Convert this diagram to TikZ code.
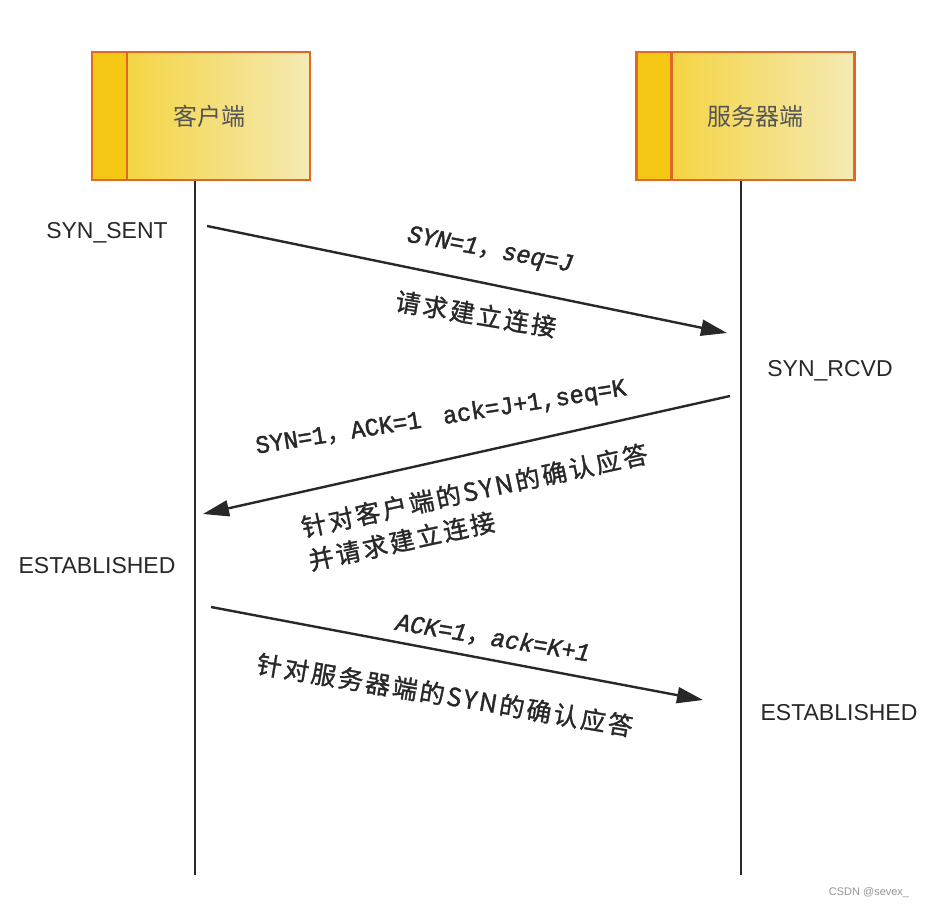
\documentclass[tikz,border=0pt]{standalone}
\usepackage{xcolor}
\usepackage{fontspec}
\setmainfont{Liberation Sans}
\newfontfamily\cjkplain{Noto Sans CJK SC}
\newfontfamily\lblzh[LetterSpace=10,FakeBold=1.2]{Noto Sans CJK SC}
\newfontfamily\lblmono[FakeBold=1.6,FakeStretch=0.95]{Liberation Mono}
\newcommand{\zh}[1]{{\lblzh\fontsize{25}{34}\selectfont #1}}
\usetikzlibrary{arrows.meta}
\definecolor{myorange}{RGB}{224,104,36}
\definecolor{mystrip}{RGB}{244,200,20}
\definecolor{myyellow}{RGB}{245,208,46}
\definecolor{mypale}{RGB}{244,234,180}
\definecolor{mydark}{RGB}{40,40,40}
\definecolor{mygrey}{RGB}{85,85,85}
\definecolor{mymark}{RGB}{150,150,150}
\tikzset{
  hostbox/.style={rectangle, draw=myorange, line width=2.2pt,
    left color=myyellow, right color=mypale,
    minimum width=218pt, minimum height=128pt, inner sep=0pt,
    path picture={
      \fill[mystrip] (path picture bounding box.north west)
        rectangle ([xshift=35pt]path picture bounding box.south west);
      \draw[myorange, line width=2.2pt] ([xshift=35pt]path picture bounding box.north west)
        -- ([xshift=35pt]path picture bounding box.south west);}},
  hosttext/.style={font=\cjkplain\fontsize{24}{28}\selectfont, text=mygrey},
  lifeline/.style={line width=2pt, color=mydark},
  msg/.style={-{Triangle[length=26pt,width=16pt]}, line width=2.4pt, color=mydark},
  state/.style={font=\fontsize{23}{27}\selectfont, text=mydark},
  msglabel/.style={font=\lblmono\fontsize{25}{34}\selectfont, text=mydark,
    align=left, inner sep=0pt}
}
\begin{document}
\begin{tikzpicture}[x=1pt, y=-1pt]
  \fill[white] (0,0) rectangle (928,910);
  \useasboundingbox (0,0) rectangle (928,910);

  % hosts
  \node[hostbox] (client) at (201,116) {};
  \node[hosttext] (clientname) at (209,116) {客户端};
  \node[hostbox] (server) at (745.5,116) {};
  \node[hosttext] (servername) at (755,116) {服务器端};

  \coordinate (clientend) at (195,875);
  \coordinate (serverend) at (741,875);
  \draw[lifeline] (clientend |- client.south) -- (clientend);
  \draw[lifeline] (serverend |- server.south) -- (serverend);

  % states
  \node[state] (synsent) at (107,233) {SYN\_SENT};
  \node[state] (synrcvd) at (830,371) {SYN\_RCVD};
  \node[state] (estclient) at (97,566) {ESTABLISHED};
  \node[state] (estserver) at (839,713) {ESTABLISHED};

  % first handshake
  \coordinate (syna) at (207,226);
  \coordinate (synb) at (727,333);
  \draw[msg] (syna) -- (synb);
  \node[msglabel, rotate=-10.4] (synlabel) at (490,251) {\itshape SYN=1\zh{，}seq=J};
  \node[msglabel, rotate=-9.5] (synnote) at (476,314) {\zh{请求建立连接}};

  % second handshake
  \coordinate (ackb) at (730,396);
  \coordinate (acka) at (203,514);
  \draw[msg] (ackb) -- (acka);
  \node[msglabel, rotate=9] (acklabel) at (441,418) {SYN=1\zh{，}ACK=1\hspace{22pt}ack=J+1,seq=K};
  \node[msglabel, rotate=12.2] (acknote) at (478,507)
    {\zh{针对客户端的SYN的确认应答}\\\zh{并请求建立连接}};

  % third handshake
  \coordinate (esta) at (211,607);
  \coordinate (estb) at (703,700);
  \draw[msg] (esta) -- (estb);
  \node[msglabel, rotate=-9.3] (estlabel) at (493,638) {\itshape ACK=1\zh{，}ack=K+1};
  \node[msglabel, rotate=-9.6] (estnote) at (445,695) {\zh{针对服务器端的SYN的确认应答}};

  \node[font=\fontsize{11}{13}\selectfont, text=mymark] (mark) at (869,893) {CSDN @sevex\_};
\end{tikzpicture}
\end{document}
